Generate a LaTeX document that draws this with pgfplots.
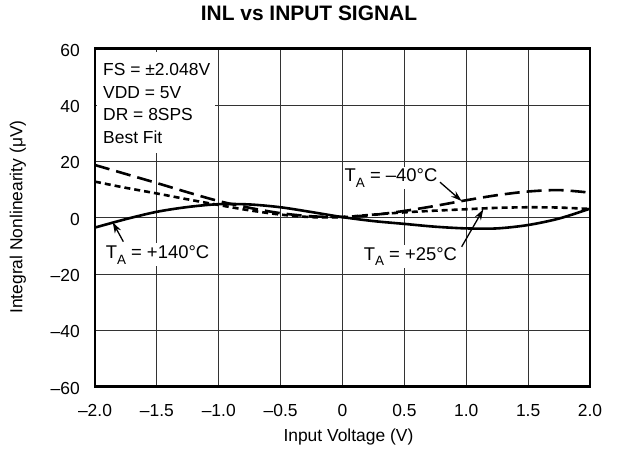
\documentclass[border=0pt]{standalone}
\usepackage{fontspec}
\setmainfont{Liberation Sans}
\usepackage{pgfplots}
\pgfplotsset{compat=1.18}
\usetikzlibrary{arrows.meta}
\newcommand{\TA}{T\raisebox{-0.32em}{\fontsize{13.5}{13.5}\selectfont A}}
\begin{document}
\fontsize{17.5}{22.7}\selectfont
\begin{tikzpicture}
\begin{axis}[
  scale only axis, width=495bp, height=338bp,
  xmin=-2, xmax=2, ymin=-60, ymax=60,
  xtick={-2,-1.5,-1,-0.5,0,0.5,1,1.5,2},
  xticklabels={–2.0,–1.5,–1.0,–0.5,0,0.5,1.0,1.5,2.0},
  ytick={-60,-40,-20,0,20,40,60},
  yticklabels={–60,–40,–20,0,20,40,60},
  major tick length=0pt,
  grid=major,
  major grid style={black!80, line width=1bp},
  axis line style={line width=2.5bp},
  xticklabel style={font=\fontsize{17.5}{20}\selectfont, anchor=base, inner sep=0pt, yshift=-30bp},
  yticklabel style={font=\fontsize{17.5}{20}\selectfont, anchor=east, inner sep=0pt, xshift=-15bp, yshift=-1.5bp},
  title={INL vs INPUT SIGNAL},
  title style={at={(axis description cs:0.4323,1.0879)}, anchor=center, font=\bfseries\fontsize{21}{24}\selectfont},
  xlabel={Input Voltage (V)},
  xlabel style={at={(axis description cs:0.512,-0.149)}, anchor=center, font=\fontsize{17.5}{20}\selectfont},
  ylabel={Integral Nonlinearity (μV)},
  ylabel style={at={(axis description cs:-0.1556,0.502)}, anchor=center, font=\fontsize{17.5}{20}\selectfont},
  clip mode=individual,
]
% T_A = -40 C (long dash)
\addplot[black, line width=2.6bp, smooth, dash pattern=on 15bp off 7bp] coordinates {
(-2,18.7) (-1.75,15.5) (-1.5,12.3) (-1.25,9.0) (-1.0,5.9) (-0.75,3.5) (-0.5,1.6) (-0.25,0.5)
(0,0.3) (0.25,1.0) (0.5,2.4) (0.75,4.2) (1.0,6.2) (1.25,8.0) (1.5,9.3) (1.75,9.8) (2.0,8.9)};
% T_A = +25 C (short dash)
\addplot[black, line width=2.6bp, smooth, dash pattern=on 6bp off 4bp] coordinates {
(-2,12.8) (-1.75,10.6) (-1.5,8.6) (-1.25,6.5) (-1.0,4.5) (-0.75,2.6) (-0.5,1.1) (-0.25,0.2)
(0,0.2) (0.25,1.1) (0.5,1.9) (0.75,2.5) (1.0,3.0) (1.25,3.5) (1.5,3.7) (1.75,3.6) (2.0,3.1)};
% T_A = +140 C (solid)
\addplot[black, line width=2.6bp, smooth] coordinates {
(-2,-3.5) (-1.75,-0.5) (-1.5,2.1) (-1.25,3.8) (-1.0,4.8) (-0.75,4.7) (-0.5,3.7) (-0.25,2.0)
(0,0.2) (0.25,-1.2) (0.5,-2.2) (0.75,-3.2) (1.0,-3.8) (1.25,-3.8) (1.5,-2.6) (1.75,-0.3) (2.0,3.2)};

\coordinate (sw) at (rel axis cs:0,0);
\coordinate (ne) at (rel axis cs:1,1);

% info box
\fill[white] (axis description cs:0.004,0.99) rectangle (axis description cs:0.243,0.69);
\node[anchor=north west, align=left, inner sep=0pt] at (axis description cs:0.0162,0.957)
  {FS = ±2.048V\\VDD = 5V\\DR = 8SPS\\Best Fit};

% annotations
\draw[line width=1.3bp, -{Stealth[length=11bp,width=7bp]}] (axis cs:0.788,12.6) -- (axis cs:0.963,5.9);
\draw[line width=1.3bp, -{Stealth[length=11bp,width=7bp]}] (axis cs:0.963,-10.3) -- (axis cs:1.138,3.0);
\draw[line width=1.3bp, -{Stealth[length=11bp,width=7bp]}] (axis cs:-1.771,-8.5) -- (axis cs:-1.857,-1.6);
\node[fill=white, inner sep=2bp, font=\fontsize{18.5}{20}\selectfont] at (axis cs:0.392,14.1) {\TA\ = –40°C};
\node[fill=white, inner sep=2bp, font=\fontsize{18.5}{20}\selectfont] at (axis cs:0.549,-13.8) {\TA\ = +25°C};
\node[fill=white, inner sep=2bp, font=\fontsize{18.5}{20}\selectfont] at (axis cs:-1.495,-13.2) {\TA\ = +140°C};
\end{axis}
\pgfresetboundingbox
\path ([shift={(-95bp,-69.4bp)}]sw) rectangle ([shift={(28bp,48.7bp)}]ne);
\end{tikzpicture}
\end{document}
